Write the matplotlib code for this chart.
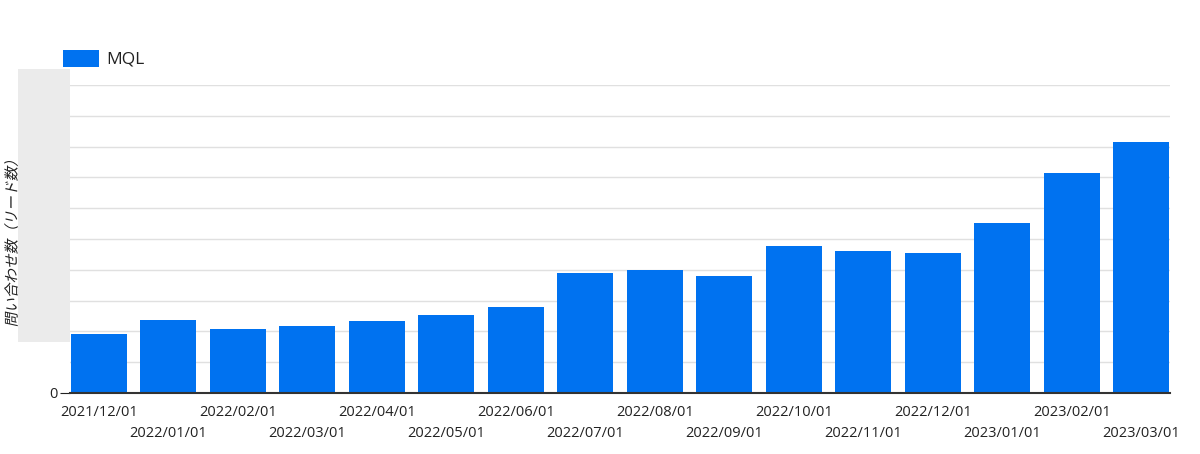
import matplotlib

matplotlib.use("Agg")

import matplotlib.pyplot as plt
import numpy as np
from matplotlib.font_manager import FontProperties
from matplotlib.patches import PathPatch, Rectangle
from matplotlib.textpath import TextPath
from matplotlib.transforms import Affine2D, IdentityTransform

# monthly MQL counts (y scale hidden in the source, read in gridline units x10)
months = ["2021/12/01", "2022/01/01", "2022/02/01", "2022/03/01",
          "2022/04/01", "2022/05/01", "2022/06/01", "2022/07/01",
          "2022/08/01", "2022/09/01", "2022/10/01", "2022/11/01",
          "2022/12/01", "2023/01/01", "2023/02/01", "2023/03/01"]
mql = [19.2, 23.8, 20.9, 21.7, 23.5, 25.4, 27.9, 39.0,
       39.9, 38.1, 47.7, 46.1, 45.5, 55.1, 71.5, 81.4]
y_ticks = list(range(0, 101, 10))
y_title = "問い合わせ数（リード数）"

BLUE = "#0072f0"
TXT = "#222222"
DPI = 100

plt.rcParams.update({
    "font.family": ["Open Sans", "Noto Sans CJK JP", "DejaVu Sans"],
    "font.size": 10.5,
    "text.color": TXT,
})

fig = plt.figure(figsize=(12, 4.54), dpi=DPI)
ax = fig.add_axes([70 / 1200, 61 / 454, 1100 / 1200, 308 / 454])

x = np.arange(len(months))
ax.bar(x, mql, width=0.805, color=BLUE, label="MQL", zorder=3)
ax.set_xlim(-0.415, len(months) - 1 + 0.415)
ax.set_ylim(0, 100)

# y grid, only the zero label is visible (rest is masked in the source)
ax.set_yticks(y_ticks, ["0"] + [""] * (len(y_ticks) - 1))
ax.yaxis.grid(True, color="#e0e0e0", linewidth=1.0, zorder=0)
ax.tick_params(axis="y", length=7, color=TXT, labelcolor=TXT, pad=2)
for t in ax.yaxis.get_major_ticks()[1:]:
    t.tick1line.set_visible(False)

# staggered month labels: even on the first row, odd on the second
ax.set_xticks(x[::2], months[::2])
ax.set_xticks(x[1::2], months[1::2], minor=True)
ax.tick_params(axis="x", which="both", length=0, labelcolor=TXT)
ax.tick_params(axis="x", which="major", pad=8.5)
ax.tick_params(axis="x", which="minor", pad=23.5)

for s in ("top", "right", "left"):
    ax.spines[s].set_visible(False)
ax.spines["bottom"].set_color("#333333")
ax.spines["bottom"].set_linewidth(1.5)
ax.spines["bottom"].set_zorder(4)

ax.legend(loc="lower left", bbox_to_anchor=(63 / 1200, 1 - 68 / 454),
          bbox_transform=fig.transFigure, frameon=False, fontsize=12.5,
          handlelength=2.07, handleheight=1.15, handletextpad=0.43,
          borderpad=0, borderaxespad=0)

# grey mask over the hidden y tick values
fig.patches.append(Rectangle((18 / 1200, 1 - 342 / 454), 52 / 1200, 273 / 454,
                             transform=fig.transFigure, facecolor="#ebebeb",
                             edgecolor="none", zorder=5))

# italic (slanted) vertical axis title; the CJK font has no italic face
tp = TextPath((0, 0), y_title, size=10.5,
              prop=FontProperties(family="Noto Sans CJK JP"))
ext = tp.get_extents()
tr = (Affine2D()
      .translate(-(ext.x0 + ext.x1) / 2, -(ext.y0 + ext.y1) / 2)
      .scale(DPI / 72)
      .skew_deg(12, 0)
      .rotate_deg(90)
      .translate(11, 454 - 243))
fig.patches.append(PathPatch(tp, transform=tr + IdentityTransform(),
                             facecolor=TXT, edgecolor="none", zorder=6))

fig.savefig("out.png", dpi=DPI)
